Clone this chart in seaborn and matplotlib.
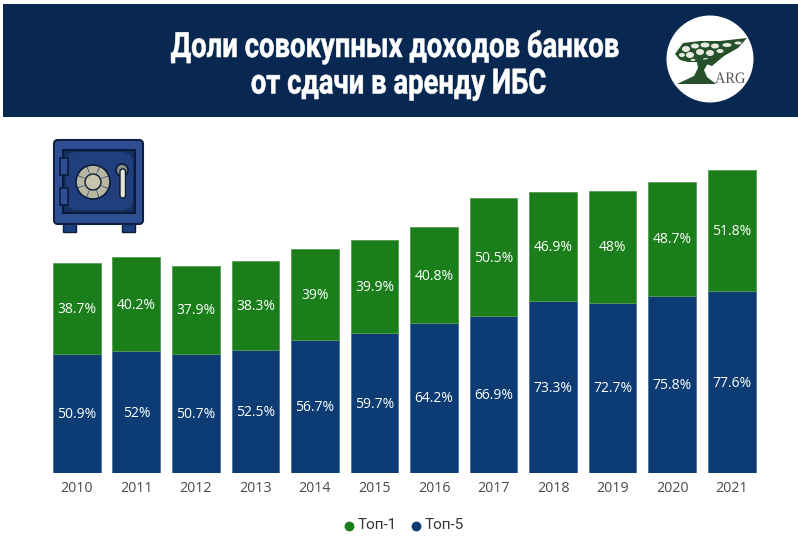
import matplotlib
matplotlib.use("Agg")
import matplotlib.pyplot as plt
from matplotlib.patches import Circle, Ellipse, FancyBboxPatch, Polygon, Rectangle, Wedge
from matplotlib.patheffects import AbstractPathEffect
from matplotlib.transforms import Affine2D
import seaborn as sns

years = [2010, 2011, 2012, 2013, 2014, 2015, 2016, 2017, 2018, 2019, 2020, 2021]
top5 = [50.9, 52, 50.7, 52.5, 56.7, 59.7, 64.2, 66.9, 73.3, 72.7, 75.8, 77.6]
top1 = [38.7, 40.2, 37.9, 38.3, 39, 39.9, 40.8, 50.5, 46.9, 48, 48.7, 51.8]
title_lines = ["Доли совокупных доходов банков", "от сдачи в аренду ИБС"]

navy = "#092851"
blue = "#0c3c73"
green = "#1a7f1a"
tree = "#27512b"


class Narrow(AbstractPathEffect):
    """Squeeze text sideways around cx, no condensed font is installed."""

    def __init__(self, cx, factor, stroke=0):
        super().__init__()
        self.cx = cx
        self.factor = factor
        self.stroke = stroke

    def draw_path(self, renderer, gc, tpath, affine, rgbFace=None):
        squeeze = Affine2D().translate(-self.cx, 0).scale(self.factor, 1).translate(self.cx, 0)
        gc0 = renderer.new_gc()
        gc0.copy_properties(gc)
        gc0.set_foreground(rgbFace)
        gc0.set_linewidth(self.stroke)
        renderer.draw_path(gc0, tpath, affine + squeeze, rgbFace)
        gc0.restore()


sns.set_style("white")
plt.rcParams["font.family"] = ["Open Sans", "DejaVu Sans"]

W, H = 798, 549
fig = plt.figure(figsize=(W / 100, H / 100), dpi=100)

# chart axes placed by pixels
ax = fig.add_axes([47 / W, (H - 473) / H, 714.5 / W, 351 / H])
sns.barplot(x=years, y=top5, color=blue, saturation=1, linewidth=0.6, edgecolor="#4a7099", ax=ax)
sns.barplot(x=years, y=top1, bottom=top5, color=green, saturation=1, linewidth=0.6, edgecolor="#559c55", ax=ax)
ax.set_ylim(0, 150)
ax.set_xlim(-0.5, 11.5)
ax.set_yticks([])
ax.tick_params(axis="x", length=0, pad=6, labelsize=10.3, labelcolor="#4a4a4a")
sns.despine(ax=ax, left=True, bottom=True)

for cont in ax.containers:
    for label in ax.bar_label(cont, fmt="%g%%", label_type="center", color="white", fontsize=10):
        label.xyann = (0, -0.7)

# header, icons, legend in pixel coordinates
over = fig.add_axes([0, 0, 1, 1], zorder=5)
over.set_xlim(0, W)
over.set_ylim(H, 0)
over.axis("off")

over.add_patch(Rectangle((3, 4), W - 3, 113, color=navy, lw=0))
for line, x, y in zip(title_lines, [395, 398.5], [47, 84]):
    over.text(x, y, line, color="white", ha="center", va="center", fontsize=25,
              fontweight="bold", family=["Roboto", "DejaVu Sans"],
              path_effects=[Narrow(x, 0.79, stroke=0.4)])

# logo
over.add_patch(Circle((710, 59), 43.5, color="white", lw=0))
over.add_patch(Polygon([(675, 54), (683, 43), (700, 41), (720, 41), (747, 38), (738, 48), (724, 56), (712, 66),
                        (700, 62), (688, 62), (680, 60)], color=tree, lw=0))
for cx, cy, w, h in [(686, 49, 8, 6), (695, 46, 8, 5), (705, 45, 9, 5), (715, 46, 8, 5), (727, 45, 9, 4),
                     (738, 43, 7, 3), (682, 55, 6, 4), (690, 55, 8, 6), (700, 52, 8, 6), (710, 53, 8, 6),
                     (720, 51, 7, 4), (706, 60, 6, 4), (693, 60, 5, 2)]:
    over.add_patch(Ellipse((cx, cy), w, h, color="#e6ebe2", lw=0))
over.add_patch(Polygon([(696, 56), (703, 60), (711, 58), (704, 70), (707, 77), (716, 84), (677, 84), (694, 76),
                        (698, 68)], color=tree, lw=0))
over.text(715, 79, "ARG", color="#555555", ha="left", va="center", fontsize=11.5,
          family="Liberation Serif", path_effects=[Narrow(715, 0.9)])

# safe
over.add_patch(Rectangle((63, 223), 13, 9, fc="#1d3f80", ec="#0b1c3a", lw=1))
over.add_patch(Rectangle((122, 223), 13, 9, fc="#1d3f80", ec="#0b1c3a", lw=1))
over.add_patch(FancyBboxPatch((54, 140), 89, 84, boxstyle="round,pad=0,rounding_size=4",
                              fc="#2f4f95", ec="#0f1f3f", lw=1.5))
over.add_patch(Rectangle((63, 150), 72, 63, fc="#16305f", ec="#0b1c3a", lw=1.5))
over.add_patch(FancyBboxPatch((66, 152), 67, 58, boxstyle="round,pad=0,rounding_size=12",
                              fc="#213f7d", lw=0))
over.add_patch(Rectangle((60, 158), 8, 17, fc="#2f4f95", ec="#0b1c3a", lw=1.2))
over.add_patch(Rectangle((60, 188), 8, 17, fc="#2f4f95", ec="#0b1c3a", lw=1.2))
over.add_patch(Circle((93, 182), 17, fc="#b9b79f", ec="#0b1c3a", lw=1.2))
for start in range(22, 382, 45):
    over.add_patch(Wedge((93, 182), 17, start, start + 3, color="#1f3d78", lw=0))
over.add_patch(Circle((93, 182), 8, fc="#c6c4ac", ec="#0b1c3a", lw=1))
over.add_patch(Circle((122, 170), 6, fc="#8a8d85", ec="#0b1c3a", lw=1.2))
over.add_patch(FancyBboxPatch((120, 169), 5.5, 29, boxstyle="round,pad=0,rounding_size=2.5",
                              fc="#e6e4d2", ec="#0b1c3a", lw=1))

# legend
over.scatter([349], [526], s=50, color=green, lw=0)
over.text(358, 525, "Топ-1", fontsize=11, color="#333333", va="center", family="Roboto")
over.scatter([416], [526], s=50, color=blue, lw=0)
over.text(425, 525, "Топ-5", fontsize=11, color="#333333", va="center", family="Roboto")

fig.savefig("out.png", dpi=100)
